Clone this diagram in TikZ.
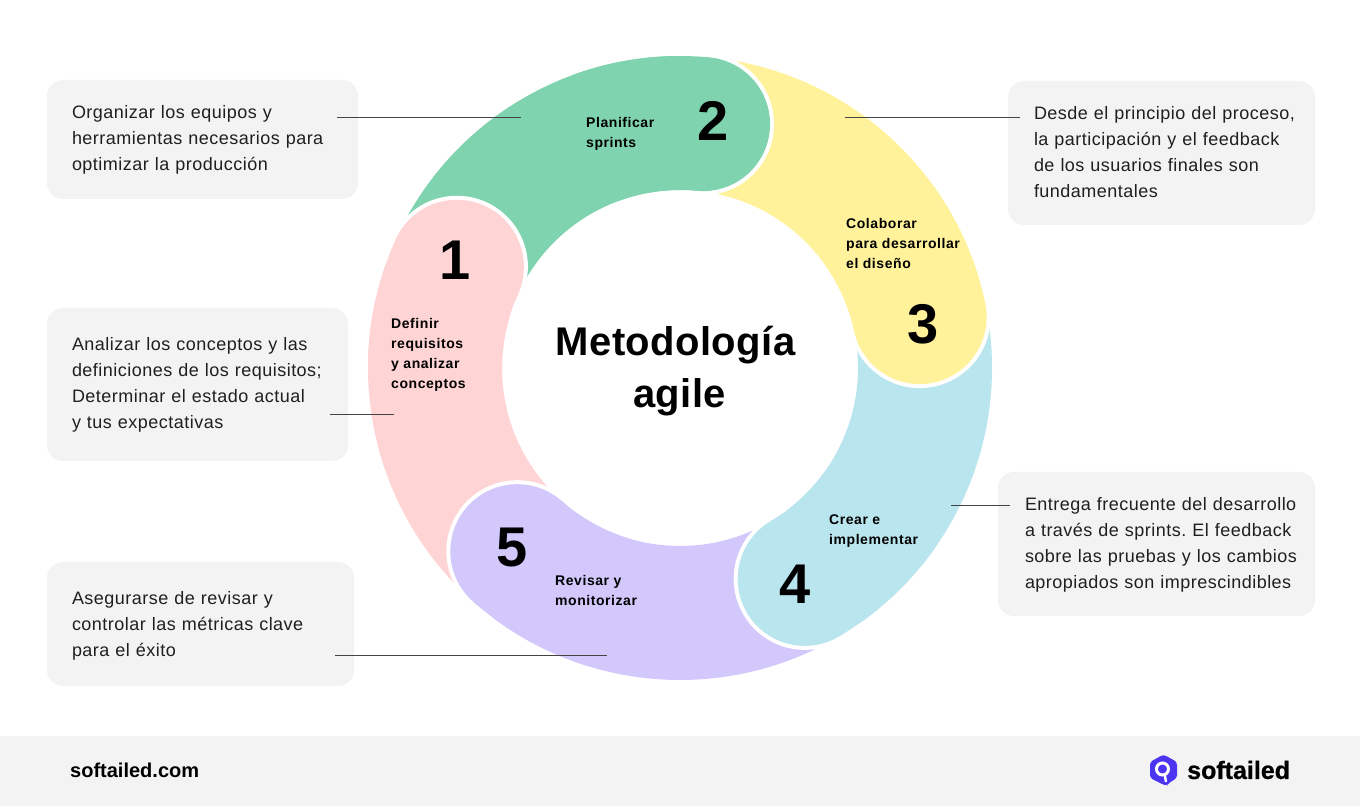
\documentclass[tikz,border=0pt]{standalone}
\usepackage{fontspec}
\usepackage{xcolor}
\setmainfont{Liberation Sans}[LetterSpace=2.7]
\newfontfamily\headfont{Liberation Sans}
\newfontfamily\labelfont{Liberation Sans}[LetterSpace=4]
\newfontfamily\titlefont{Liberation Sans}[LetterSpace=1]
\newfontfamily\brandfont{Liberation Sans}[UprightFont=* Bold, FakeBold=0.7]
\definecolor{bandgreen}{HTML}{7FD4AF}
\definecolor{bandyellow}{HTML}{FFF29B}
\definecolor{bandblue}{HTML}{B9E5EE}
\definecolor{bandpurple}{HTML}{D2C8FC}
\definecolor{bandpink}{HTML}{FFD4D5}
\definecolor{boxgrey}{HTML}{F3F3F3}
\definecolor{logoblue}{HTML}{4B35F0}
\definecolor{leadgrey}{HTML}{444444}
\definecolor{inkgrey}{HTML}{1F1F1F}
\tikzset{
	infobox/.style={fill=boxgrey, rounded corners=16pt, anchor=north west, inner xsep=25pt, inner ysep=0pt, outer sep=0pt, align=left, text=inkgrey, font=\frenchspacing\fontsize{18}{26}\selectfont},
	steplabel/.style={anchor=west, inner sep=0pt, align=left, text=black, font=\labelfont\fontsize{14}{20}\selectfont\bfseries},
	stepnum/.style={inner sep=0pt, text=black, font=\headfont\fontsize{56}{56}\selectfont\bfseries},
	leader/.style={draw=leadgrey, line width=1pt}
}

\begin{document}
\begin{tikzpicture}[x=1pt,y=1pt]
	\useasboundingbox (0,0) rectangle (1360,806);
	\fill[white] (0,0) rectangle (1360,806);
	
	\begin{scope}[shift={(680,438)}]
		% ring bands
		\fill[bandpink] (155.6:178) arc[start angle=155.6, end angle=228.4, radius=178] -- (228.4:312) arc[start angle=228.4, end angle=155.6, radius=312] -- cycle;
		\fill[bandgreen] (84.6:178) arc[start angle=84.6, end angle=155.6, radius=178] -- (155.6:312) arc[start angle=155.6, end angle=84.6, radius=312] -- cycle;
		\fill[bandyellow] (12:178) arc[start angle=12, end angle=84.6, radius=178] -- (84.6:312) arc[start angle=84.6, end angle=12, radius=312] -- cycle;
		\fill[bandblue] (-59.4:178) arc[start angle=-59.4, end angle=12, radius=178] -- (12:312) arc[start angle=12, end angle=-59.4, radius=312] -- cycle;
		\fill[bandpurple] (-131.6:178) arc[start angle=-131.6, end angle=-59.4, radius=178] -- (-59.4:312) arc[start angle=-59.4, end angle=-131.6, radius=312] -- cycle;
		
		% round heads with their white edge
		\fill[white] (155.6:245) circle (71);
		\fill[white] (84.6:245) circle (71);
		\fill[white] (12:245) circle (71);
		\fill[white] (-59.4:245) circle (71);
		\fill[white] (-131.6:245) circle (71);
		\fill[bandpink] (155.6:245) circle (67);
		\fill[bandgreen] (84.6:245) circle (67);
		\fill[bandyellow] (12:245) circle (67);
		\fill[bandblue] (-59.4:245) circle (67);
		\fill[bandpurple] (-131.6:245) circle (67);
		
		% hide the white edge on the side of the own band
		\fill[bandpink] (155.6:178) arc[start angle=155.6, end angle=180, radius=178] -- (180:312) arc[start angle=180, end angle=155.6, radius=312] -- cycle;
		\fill[bandgreen] (84.6:178) arc[start angle=84.6, end angle=110, radius=178] -- (110:312) arc[start angle=110, end angle=84.6, radius=312] -- cycle;
		\fill[bandyellow] (12:178) arc[start angle=12, end angle=36, radius=178] -- (36:312) arc[start angle=36, end angle=12, radius=312] -- cycle;
		\fill[bandblue] (-59.4:178) arc[start angle=-59.4, end angle=-35, radius=178] -- (-35:312) arc[start angle=-35, end angle=-59.4, radius=312] -- cycle;
		\fill[bandpurple] (-131.6:178) arc[start angle=-131.6, end angle=-107, radius=178] -- (-107:312) arc[start angle=-107, end angle=-131.6, radius=312] -- cycle;
	\end{scope}
	
	\node[stepnum] (n1) at (455,546) {1};
	\node[stepnum] (n2) at (713,685) {2};
	\node[stepnum] (n3) at (923,482) {3};
	\node[stepnum] (n4) at (795,222) {4};
	\node[stepnum] (n5) at (512,258) {5};
	
	\node[steplabel] (s1) at (391,451) {Definir\\requisitos\\y analizar\\conceptos};
	\node[steplabel] (s2) at (586,672) {Planificar\\sprints};
	\node[steplabel] (s3) at (846,562) {Colaborar\\para desarrollar\\el diseño};
	\node[steplabel] (s4) at (829,275) {Crear e\\implementar};
	\node[steplabel] (s5) at (555,216) {Revisar y\\monitorizar};
	
	\node[inner sep=0pt, align=center, font=\titlefont\fontsize{40}{52}\selectfont\bfseries] (title) at (675.5,435) {Metodología\\\hspace*{8pt}agile};
	
	\node[infobox, text width=261pt, minimum height=119pt] (b1) at (47,726) {Organizar los equipos y\\herramientas necesarios para\\optimizar la producción};
	\node[infobox, text width=251pt, minimum height=153pt] (b2) at (47,498) {Analizar los conceptos y las\\definiciones de los requisitos;\\Determinar el estado actual\\y tus expectativas};
	\node[infobox, text width=257pt, minimum height=124pt] (b3) at (47,244) {Asegurarse de revisar y\\controlar las métricas clave\\para el éxito\vspace*{-4pt}};
	\node[infobox, inner xsep=26pt, text width=255pt, minimum height=144pt] (b4) at (1008,725) {\mbox{Desde el principio del proceso,}\\la participación y el feedback\\de los usuarios finales son\\fundamentales\vspace*{2pt}};
	\node[infobox, inner xsep=27pt, text width=263pt, minimum height=144pt] (b5) at (998,334) {\mbox{Entrega frecuente del desarrollo}\\\mbox{a través de sprints. El feedback}\\\mbox{sobre las pruebas y los cambios}\\\mbox{apropiados son imprescindibles}\vspace*{-2pt}};
	
	\coordinate (a1) at (330,391.5);
	\coordinate (e1) at (394,391.5);
	\coordinate (a2) at (337,688.5);
	\coordinate (e2) at (521,688.5);
	\coordinate (a3) at (1020,688.5);
	\coordinate (e3) at (845,688.5);
	\coordinate (a4) at (1010,300.5);
	\coordinate (e4) at (951,300.5);
	\coordinate (a5) at (335,150.5);
	\coordinate (e5) at (607,150.5);
	\draw[leader] (a1) -- (e1);
	\draw[leader] (a2) -- (e2);
	\draw[leader] (a3) -- (e3);
	\draw[leader] (a4) -- (e4);
	\draw[leader] (a5) -- (e5);
	
	% footer
	\fill[boxgrey] (0,0) rectangle (1360,70);
	\node[anchor=west, inner sep=0pt, text=black, font=\headfont\fontsize{20}{24}\selectfont\bfseries] (site) at (70,36) {softailed.com};
	
	% logo
	\fill[logoblue, rounded corners=3pt] (1163.5,51.5) -- (1177,44) -- (1177,28) -- (1168,22.5) -- (1167,20) -- (1161,22.5) -- (1150,28) -- (1150,44) -- cycle;
	\draw[white, line width=3pt] (1162.5,37) circle (6);
	\draw[white, line width=2.4pt] (1164.8,31) -- (1166,24);
	\node[anchor=west, inner sep=0pt, text=black, font=\brandfont\fontsize{25}{30}\selectfont] (brand) at (1187,36) {softailed};
\end{tikzpicture}
\end{document}
